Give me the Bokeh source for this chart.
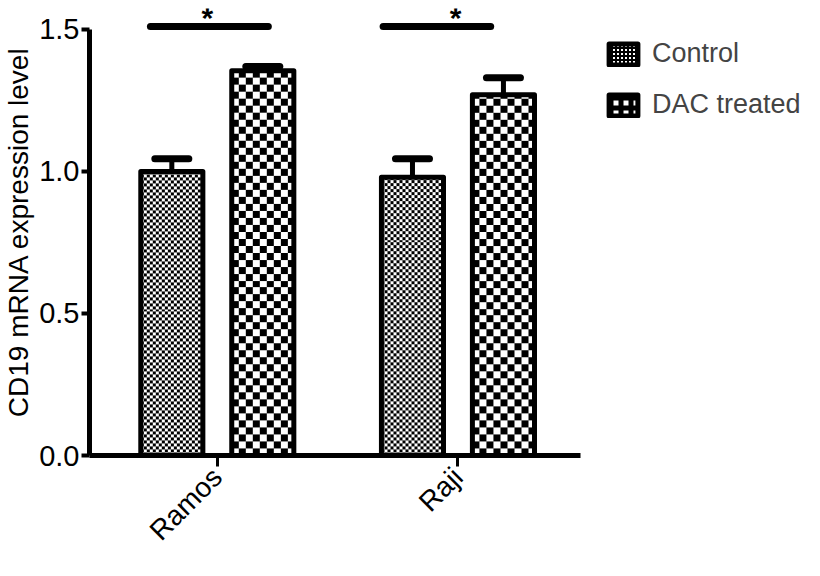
import math
import numpy as np
from bokeh.plotting import figure
from bokeh.models import (Range1d, FixedTicker, Whisker, TeeHead, ColumnDataSource,
                          Legend, LegendItem)
from bokeh.core.properties import value
from bokeh.embed import file_html
from bokeh.resources import INLINE

# ---- data ----
groups = ["Ramos", "Raji"]
series = ["Control", "DAC treated"]
control_mean = [1.00, 0.98]
control_err = [0.045, 0.065]
dac_mean = [1.355, 1.27]
dac_err = [0.015, 0.06]
y_ticks = [0.0, 0.5, 1.0, 1.5]
y_tick_labels = ["0.0", "0.5", "1.0", "1.5"]
sig_x0 = [0.722, 1.689]
sig_x1 = [1.212, 2.136]
sig_y = [1.51, 1.51]
star_x = [0.959, 1.99]
star_y = [1.543, 1.543]
star_text = ["*", "*"]

FONT = "Liberation Sans"
pos = [i + 1 for i in range(len(groups))]
offset = 0.189
bar_w = 0.258
X0, X1 = 0.4689, 3.440
Y0, Y1 = 0.0, 1.5738
FRAME_W, FRAME_H = 716, 448
px_x = FRAME_W / (X1 - X0)
px_y = FRAME_H / (Y1 - Y0)


def checker_img(width_units, height_units, cell):
    w = max(1, int(round(width_units * px_x)))
    h = max(1, int(round(height_units * px_y)))
    yy, xx = np.mgrid[0:h, 0:w]
    black = ((xx // cell) + (yy // cell)) % 2 == 1
    img = np.empty((h, w), dtype=np.uint32)
    view = img.view(dtype=np.uint8).reshape((h, w, 4))
    view[..., 3] = 255
    view[..., 0:3] = np.where(black, 0, 255)[..., None]
    return img


p = figure(width=804, height=560, output_backend="svg", toolbar_location=None,
           x_range=Range1d(X0, X1), y_range=Range1d(Y0, Y1),
           min_border_left=88, min_border_right=0, min_border_top=8, min_border_bottom=104)
p.outline_line_color = None
p.grid.visible = False

ctrl_src = ColumnDataSource(dict(x=[v - offset for v in pos], top=control_mean,
                                 upper=[m + e for m, e in zip(control_mean, control_err)]))
dac_src = ColumnDataSource(dict(x=[v + offset for v in pos], top=dac_mean,
                                upper=[m + e for m, e in zip(dac_mean, dac_err)]))

for src in (ctrl_src, dac_src):
    w = Whisker(source=src, base="x", lower="top", upper="upper", line_width=5,
                line_color="black", lower_head=None,
                upper_head=TeeHead(size=34, line_width=7, line_color="black", line_cap="round"),
                level="underlay")
    p.add_layout(w)

# hatch layer (shows in the legend; covered by the checker images in the plot)
h_ctrl = p.vbar(x="x", top="top", width=bar_w, source=ctrl_src, fill_color="white",
                line_color=None, hatch_pattern="cross", hatch_scale=4, hatch_weight=2,
                hatch_color="black")
h_dac = p.vbar(x="x", top="top", width=bar_w, source=dac_src, fill_color="white",
               line_color=None, hatch_pattern="cross", hatch_scale=10, hatch_weight=5,
               hatch_color="black")

# checker fills, placed from the data through the figure's scales
for src, cell in ((ctrl_src, 3), (dac_src, 7)):
    xs = src.data["x"]
    tops = src.data["top"]
    imgs = [checker_img(bar_w, t, cell) for t in tops]
    p.image_rgba(image=imgs, x=[x - bar_w / 2 for x in xs], y=[0] * len(xs),
                 dw=[bar_w] * len(xs), dh=tops)

o_ctrl = p.vbar(x="x", top="top", width=bar_w, source=ctrl_src, fill_color=None,
                line_color="black", line_width=5, line_join="round")
o_dac = p.vbar(x="x", top="top", width=bar_w, source=dac_src, fill_color=None,
               line_color="black", line_width=5, line_join="round")

p.segment(x0=sig_x0, y0=sig_y, x1=sig_x1, y1=sig_y, line_width=7, line_color="black",
          line_cap="round")
p.text(x=star_x, y=star_y, text=star_text, text_font=value(FONT), text_font_size="30px",
       text_font_style="bold", text_align="center", text_baseline="middle", text_color="black")

# axes
xa = p.xaxis[0]
xa.ticker = FixedTicker(ticks=pos)
xa.major_label_overrides = {v: g for v, g in zip(pos, groups)}
xa.bounds = (X0, 2.51)
xa.major_label_orientation = math.pi / 4
xa.axis_line_width = 5
xa.major_tick_line_width = 3
xa.major_tick_out = 11
xa.major_tick_in = 0
xa.minor_tick_line_color = None
xa.major_label_text_font = FONT
xa.major_label_text_font_size = "28px"
xa.major_label_text_color = "black"
xa.major_label_standoff = 6

ya = p.yaxis[0]
ya.ticker = FixedTicker(ticks=y_ticks)
ya.major_label_overrides = {t: l for t, l in zip(y_ticks, y_tick_labels)}
ya.bounds = (0, 1.5)
ya.axis_line_width = 5
ya.major_tick_line_width = 4
ya.major_tick_out = 8
ya.major_tick_in = 0
ya.minor_tick_line_color = None
ya.major_label_text_font = FONT
ya.major_label_text_font_size = "29px"
ya.major_label_text_color = "black"
ya.major_label_standoff = 2
ya.axis_label = "CD19 mRNA expression level"
ya.axis_label_text_font = FONT
ya.axis_label_text_font_size = "28px"
ya.axis_label_text_font_style = "normal"
ya.axis_label_text_color = "black"
ya.axis_label_standoff = 2

legend = Legend(items=[LegendItem(label=series[0], renderers=[h_ctrl, o_ctrl]),
                       LegendItem(label=series[1], renderers=[h_dac, o_dac])],
                location=(516, 335), border_line_color=None, background_fill_alpha=0,
                glyph_width=36, glyph_height=26, label_text_font=FONT,
                label_text_font_size="27px", spacing=20, padding=0, margin=0,
                label_standoff=11)
p.add_layout(legend)

open("out.html", "w").write(file_html(p, INLINE))
